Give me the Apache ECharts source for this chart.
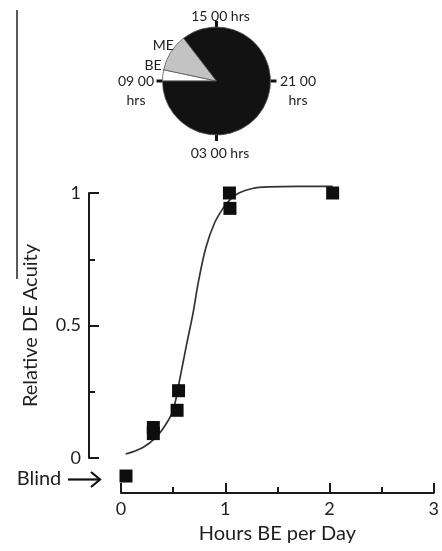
<!DOCTYPE html>
<html>
<head>
<meta charset="utf-8">
<script src="https://cdn.jsdelivr.net/npm/echarts@6/dist/echarts.min.js"></script>
<style>
html,body{margin:0;padding:0;background:#fff;}
#chart{width:442px;height:551px;}
</style>
</head>
<body>
<div id="chart"></div>
<script>
// ---- Pie (daily light schedule, hours) ----
var pieCategories = ['BE', 'ME', 'Dark'];
var pieHours = [0.8, 2.7, 20.5];
var pieColors = ['#ffffff', '#c3c3c3', '#121212'];
var clockLabels = ['15 00 hrs', '21 00\nhrs', '03 00 hrs', '09 00\nhrs'];

// ---- Scatter (relative DE acuity vs hours BE per day) ----
var pointX = [1.04, 1.045, 2.03, 0.552, 0.538, 0.31, 0.31, 0.048];
var pointY = [1.0, 0.942, 1.0, 0.254, 0.18, 0.115, 0.092, -0.068];

// ---- Fitted curve ----
var curveX = [0.045, 0.21, 0.34, 0.435, 0.5, 0.56, 0.625, 0.69, 0.745, 0.815, 0.895, 0.975, 1.04, 1.13, 1.26, 1.42, 1.7, 2.03];
var curveY = [0.015, 0.04, 0.08, 0.13, 0.18, 0.29, 0.42, 0.545, 0.67, 0.795, 0.885, 0.94, 0.972, 1.0, 1.017, 1.023, 1.025, 1.025];

var xTitle = 'Hours BE per Day';
var yTitle = 'Relative DE Acuity';
var blindLabel = 'Blind';

var FONT = 'Lato';
var TXT = '#1e1e1e';

var chart = echarts.init(document.getElementById('chart'), null, {renderer: 'canvas'});

var pieData = pieCategories.map(function (c, i) {
  return {name: c, value: pieHours[i], itemStyle: {color: pieColors[i]}};
});
var pts = pointX.map(function (x, i) { return [x, pointY[i]]; });
var curve = curveX.map(function (x, i) { return [x, curveY[i]]; });

var pieCx = 216.5, pieCy = 81, pieR = 54;

function txt(text, x, y, size, extra) {
  var s = {text: text, x: x, y: y, fill: TXT, font: size + 'px ' + FONT,
           textAlign: 'center', textVerticalAlign: 'middle'};
  if (extra) for (var k in extra) s[k] = extra[k];
  return {type: 'text', style: s, silent: true, z: 10};
}

chart.setOption({
  animation: false,
  backgroundColor: '#fff',
  textStyle: {fontFamily: FONT},
  polar: {center: [pieCx, pieCy], radius: pieR},
  angleAxis: {
    type: 'value', min: 0, max: 24, interval: 6, startAngle: 90, clockwise: true,
    axisLine: {show: false},
    axisTick: {show: true, length: 6, lineStyle: {width: 3, color: '#111'}},
    axisLabel: {show: false},
    splitLine: {show: false}
  },
  radiusAxis: {show: false, min: 0, max: 1, axisLine: {show: false}, axisTick: {show: false}, axisLabel: {show: false}, splitLine: {show: false}},
  grid: {left: 121, top: 193, width: 315, height: 265, containLabel: false},
  xAxis: {
    type: 'value', min: 0, max: 3, interval: 1,
    position: 'bottom', offset: 35,
    axisLine: {show: true, onZero: false, lineStyle: {color: '#1a1a1a', width: 2}},
    axisTick: {show: true, inside: true, length: 10, lineStyle: {color: '#1a1a1a', width: 2}},
    minorTick: {show: true, splitNumber: 2, length: 6, lineStyle: {color: '#1a1a1a', width: 2}},
    axisLabel: {color: TXT, fontSize: 18, fontFamily: FONT, margin: 7},
    splitLine: {show: false},
    name: xTitle, nameLocation: 'middle', nameGap: 31,
    nameTextStyle: {color: TXT, fontSize: 20, fontFamily: FONT}
  },
  yAxis: {
    type: 'value', min: 0, max: 1, interval: 0.5,
    position: 'left', offset: 32,
    axisLine: {show: true, onZero: false, lineStyle: {color: '#1a1a1a', width: 2}},
    axisTick: {show: true, inside: true, length: 10, lineStyle: {color: '#1a1a1a', width: 2}},
    minorTick: {show: true, splitNumber: 2, length: 6, lineStyle: {color: '#1a1a1a', width: 2}},
    axisLabel: {color: TXT, fontSize: 18, fontFamily: FONT, margin: 8},
    splitLine: {show: false},
    name: yTitle, nameLocation: 'middle', nameGap: 48,
    nameTextStyle: {color: TXT, fontSize: 20, fontFamily: FONT}
  },
  series: [
    {
      type: 'pie', center: [pieCx, pieCy], radius: pieR,
      startAngle: 180, clockwise: true, silent: true,
      label: {show: false}, labelLine: {show: false},
      itemStyle: {borderColor: '#555', borderWidth: 0.8},
      data: pieData, z: 3
    },
    {
      type: 'line', data: curve, smooth: 0.35, symbol: 'none', clip: false,
      lineStyle: {color: '#333', width: 1.7}, z: 2
    },
    {
      type: 'scatter', data: pts, symbol: 'rect', symbolSize: 13, clip: false,
      itemStyle: {color: '#0e0e0e', opacity: 1}, z: 4
    }
  ],
  graphic: [
    {type: 'line', shape: {x1: 17, y1: 10, x2: 17, y2: 279}, style: {stroke: '#222', lineWidth: 1.5}, silent: true},
    txt(clockLabels[0], 220.5, 16.7, 14),
    txt(clockLabels[1], 298, 91, 14, {lineHeight: 18.3}),
    txt(clockLabels[2], 220, 153.3, 14),
    txt(clockLabels[3], 136, 91, 14, {lineHeight: 18.3}),
    txt(pieCategories[1], 163.3, 45, 14),
    txt(pieCategories[0], 153, 65.7, 14),
    txt(blindLabel, 39, 479, 20),
    {type: 'line', shape: {x1: 68, y1: 479.5, x2: 100, y2: 479.5}, style: {stroke: '#111', lineWidth: 2.2}, silent: true},
    {type: 'polyline', shape: {points: [[91, 472], [100, 479.5], [91, 487]]}, style: {stroke: '#111', lineWidth: 2.2, fill: null}, silent: true}
  ]
});
</script>
</body>
</html>
